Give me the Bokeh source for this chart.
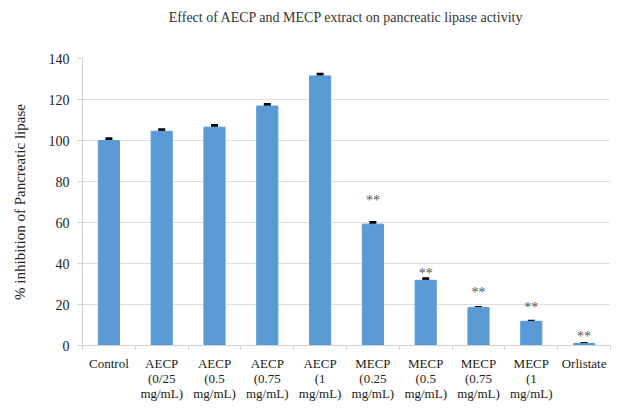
from bokeh.plotting import figure
from bokeh.models import ColumnDataSource, FixedTicker, Whisker, TeeHead, Range1d, Title
from bokeh.embed import file_html
from bokeh.resources import INLINE

categories = ["Control", "AECP\n(0/25\nmg/mL)", "AECP\n(0.5\nmg/mL)", "AECP\n(0.75\nmg/mL)",
              "AECP\n(1\nmg/mL)", "MECP\n(0.25\nmg/mL)", "MECP\n(0.5\nmg/mL)",
              "MECP\n(0.75\nmg/mL)", "MECP\n(1\nmg/mL)", "Orlistate"]
values = [100.0, 104.5, 106.5, 116.8, 131.5, 59.2, 31.8, 18.5, 11.8, 1.0]
errors = [0.8, 0.8, 0.8, 0.8, 0.8, 0.8, 0.8, 0.0, 0.0, 0.0]
sig_labels = ["", "", "", "", "", "**", "**", "**", "**", "**"]
sig_pos = [0, 0, 0, 0, 0, 70.5, 35, 26, 18.5, 4.5]
y_ticks = [0, 20, 40, 60, 80, 100, 120, 140]
title_text = "Effect of AECP and MECP extract on pancreatic lipase activity"

FONT = "Liberation Serif"
centers = [i + 0.5 for i in range(len(categories))]
bounds = [i for i in range(len(categories) + 1)]

src = ColumnDataSource(dict(
    x=centers, top=values,
    upper=[v + e for v, e in zip(values, errors)],
    lower=[v - e for v, e in zip(values, errors)],
))

p = figure(width=614, height=403, output_backend="svg", toolbar_location=None,
           x_range=Range1d(0, len(categories)), y_range=Range1d(0, 140),
           min_border_left=82, min_border_right=4, min_border_top=58, min_border_bottom=46)
p.outline_line_color = None
p.title.text = ""

spacer = Title(text=" ", text_font_size="16px", text_font=FONT)
p.add_layout(spacer, "above")
main_title = Title(text=title_text, align="center", text_font=FONT, text_font_size="14px",
                   text_font_style="normal", text_color="#333333")
p.add_layout(main_title, "above")

p.vbar(x="x", top="top", width=0.4, source=src, fill_color="#5b9bd5", line_color="#5b9bd5")
w = Whisker(base="x", upper="upper", lower="lower", source=src, line_color="black", line_width=2,
            upper_head=TeeHead(size=7, line_color="black", line_width=3),
            lower_head=None)
p.add_layout(w)

sig_x = [c for c, s in zip(centers, sig_labels) if s]
sig_y = [y for y, s in zip(sig_pos, sig_labels) if s]
sig_t = [s for s in sig_labels if s]
p.text(x=sig_x, y=sig_y, text=sig_t, text_align="center", text_baseline="middle",
       text_font=dict(value=FONT), text_font_size="14px", text_color="#555555")

# x axis
p.xaxis.ticker = FixedTicker(ticks=centers, minor_ticks=bounds)
p.xaxis.major_label_overrides = {c: lab for c, lab in zip(centers, categories)}
p.xaxis.major_tick_line_color = None
p.xaxis.minor_tick_line_color = "#d0d0d0"
p.xaxis.minor_tick_out = 4
p.xaxis.minor_tick_in = 0
p.xaxis.axis_line_color = "#d0d0d0"
p.xaxis.major_label_text_font = FONT
p.xaxis.major_label_text_font_size = "13px"
p.xaxis.major_label_text_line_height = 1.0
p.xaxis.major_label_text_color = "#222222"
p.xaxis.major_label_standoff = 4

# y axis
p.yaxis.ticker = FixedTicker(ticks=y_ticks)
p.yaxis.minor_tick_line_color = None
p.yaxis.major_tick_line_color = "#d0d0d0"
p.yaxis.major_tick_out = 5
p.yaxis.major_tick_in = 0
p.yaxis.axis_line_color = "#d0d0d0"
p.yaxis.major_label_text_font = FONT
p.yaxis.major_label_text_font_size = "14px"
p.yaxis.major_label_text_color = "#222222"
p.yaxis.major_label_standoff = 8
p.yaxis.axis_label = "% inhibition of Pancreatic lipase"
p.yaxis.axis_label_text_font = FONT
p.yaxis.axis_label_text_font_size = "15px"
p.yaxis.axis_label_text_font_style = "normal"
p.yaxis.axis_label_text_color = "#222222"
p.yaxis.axis_label_standoff = 18

p.xgrid.grid_line_color = None
p.ygrid.grid_line_color = "#dedede"

open("out.html", "w").write(file_html(p, INLINE))
